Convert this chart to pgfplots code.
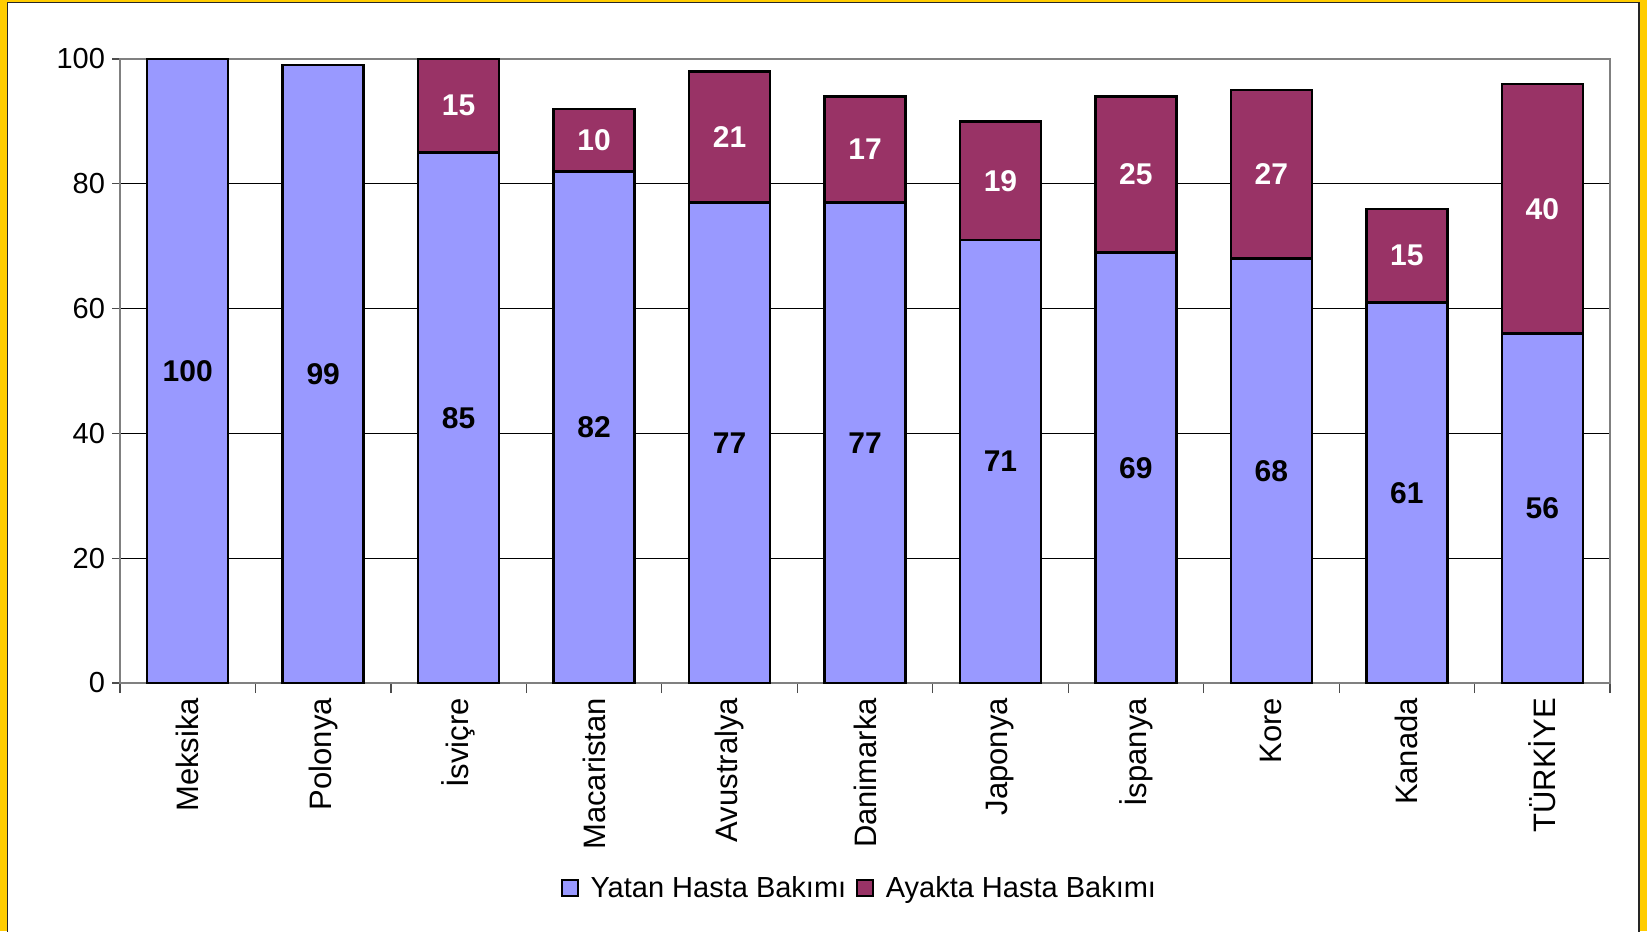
\documentclass[border=0pt]{standalone}
\usepackage{fontspec}
\setmainfont{Liberation Sans}
\usepackage{pgfplots}
\usepackage{pgfplotstable}
\pgfplotsset{compat=1.18}
\definecolor{yatan}{HTML}{9999FF}
\definecolor{ayakta}{HTML}{993366}
\definecolor{frameyellow}{HTML}{FFCC00}

% yatan = inpatient, ayakta = outpatient
\pgfplotstableread{
x  yatan ayakta
0  100   0
1  99    0
2  85    15
3  82    10
4  77    21
5  77    17
6  71    19
7  69    25
8  68    27
9  61    15
10 56    40
}\data

\pgfplotsset{frame geom/.style={
  at={(0pt,0pt)}, anchor=south west,
  scale only axis, width=745pt, height=312pt,
  xmin=-0.5, xmax=10.5, ymin=0, ymax=100,
  /pgf/number format/assume math mode=true}}

\begin{document}
\begin{tikzpicture}
\path[use as bounding box] (-60pt,-124pt) rectangle (763.5pt,341.5pt);
\fill[frameyellow] (-60pt,-124pt) rectangle (763.5pt,341.5pt);
\filldraw[fill=white,draw=black!85,line width=0.6pt] (-56.25pt,-126pt) rectangle (759.5pt,340.25pt);
\begin{axis}[
  frame geom,
  ybar stacked, bar width=40.5pt,
  clip=false,
  xtick={0,...,10},
  xticklabels={Meksika,Polonya,İsviçre,Macaristan,Avustralya,Danimarka,Japonya,İspanya,Kore,Kanada,TÜRKİYE},
  minor xtick={-0.5,0.5,...,10.5},
  ytick={0,20,...,100},
  xtick pos=bottom, ytick pos=left,
  ymajorgrids, major grid style={black, line width=0.5pt},
  tick align=outside,
  major tick length=4pt, minor tick length=5pt,
  major x tick style={draw=none},
  minor x tick style={draw=black!70, line width=0.6pt},
  ytick style={draw=black!70, line width=0.6pt},
  axis line style={draw=gray, line width=0.9pt},
  xticklabel style={rotate=90, anchor=east, font=\fontsize{15.5}{18}\selectfont},
  yticklabel style={font=\fontsize{14.5}{17}\selectfont},
  legend style={at={(0.497,-0.3285)}, anchor=center, draw=none, fill=none,
    legend columns=2, font=\fontsize{14.5}{17}\selectfont,
    /tikz/every even column/.append style={column sep=3pt},
    /tikz/every odd column/.append style={column sep=4pt}},
  legend image code/.code={\draw[#1, draw=black, line width=0.8pt] (0cm,-0.14cm) rectangle (0.28cm,0.14cm);},
]
\addplot[fill=yatan, draw=black, line width=1.2pt] table[x=x,y=yatan]{\data};
\addplot[fill=ayakta, draw=black, line width=1.2pt] table[x=x,y=ayakta]{\data};
\legend{Yatan Hasta Bakımı, Ayakta Hasta Bakımı}
\end{axis}
% value labels, centred in each segment
\begin{axis}[
  frame geom, hide axis, clip=false,
  nodes near coords,
  point meta=explicit,
  every node near coord/.append style={anchor=center,
    font=\bfseries\fontsize{15}{18}\selectfont},
]
\addplot[draw=none, mark=none, nodes near coords style={text=black}]
  table[x=x, y expr=\thisrow{yatan}/2, meta=yatan]{\data};
\addplot[draw=none, mark=none, nodes near coords style={text=white},
  skip coords between index={0}{2}]
  table[x=x, y expr=\thisrow{yatan}+\thisrow{ayakta}/2, meta=ayakta]{\data};
\end{axis}
\end{tikzpicture}
\end{document}
